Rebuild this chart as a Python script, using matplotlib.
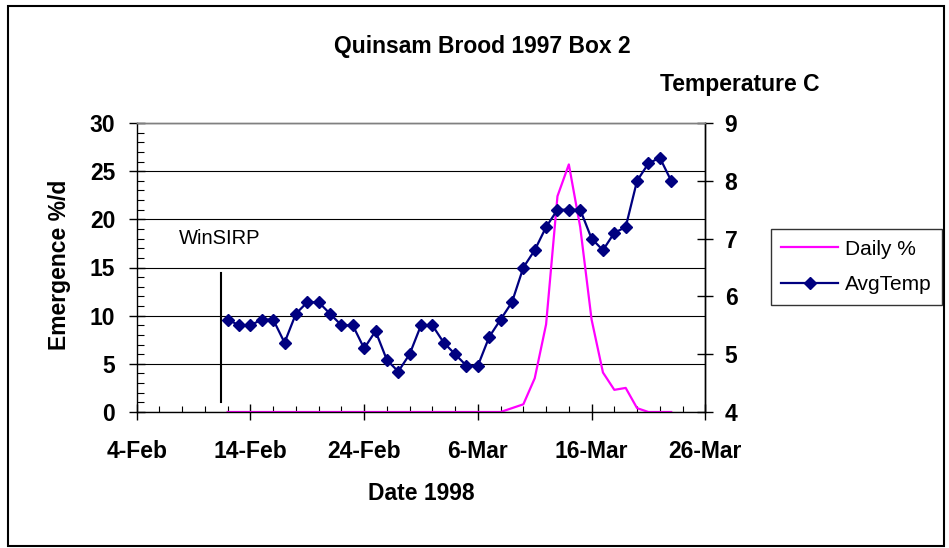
import numpy as np
import pandas as pd
import matplotlib
matplotlib.use('Agg')
import matplotlib.pyplot as plt
import matplotlib.dates as mdates
from matplotlib.patches import Rectangle

plt.rcParams['font.family'] = ['Liberation Sans', 'DejaVu Sans']

# data (one value per day from 12-Feb-1998)
start_date = '1998-02-12'
daily_pct = [0, 0, 0, 0, 0, 0, 0, 0, 0, 0,
             0, 0, 0, 0, 0, 0, 0, 0, 0, 0,
             0, 0, 0, 0, 0, 0.4, 0.8, 3.5, 9.1, 22.4,
             25.7, 19.2, 9.6, 4.1, 2.3, 2.5, 0.4, 0, 0, 0]
avg_temp = [5.6, 5.5, 5.5, 5.6, 5.6, 5.2, 5.7, 5.9, 5.9, 5.7,
            5.5, 5.5, 5.1, 5.4, 4.9, 4.7, 5.0, 5.5, 5.5, 5.2,
            5.0, 4.8, 4.8, 5.3, 5.6, 5.9, 6.5, 6.8, 7.2, 7.5,
            7.5, 7.5, 7.0, 6.8, 7.1, 7.2, 8.0, 8.3, 8.4, 8.0]
dates = pd.date_range(start_date, periods=len(avg_temp), freq='D')

x_min, x_max = pd.Timestamp('1998-02-04'), pd.Timestamp('1998-03-26')
left_ticks = [0, 5, 10, 15, 20, 25, 30]
right_ticks = [4, 5, 6, 7, 8, 9]

fig = plt.figure(figsize=(9.49, 5.48), dpi=100)
W, H = 949, 548
ax = fig.add_axes([136.7 / W, 1 - 412 / H, (705.3 - 136.7) / W, (412 - 123) / H])
ax2 = ax.twinx()

line1, = ax.plot(dates, daily_pct, color='#ff00ff', lw=1.6, label='Daily %')
line2, = ax2.plot(dates, avg_temp, color='#000080', lw=1.6, marker='D',
                  ms=6.2, label='AvgTemp')

# WinSIRP marker line
ax.plot([x_min + pd.Timedelta(days=7.37)] * 2, [1.0, 14.4], color='black', lw=1.5)
ax.text(0.075, 0.602, 'WinSIRP', transform=ax.transAxes, fontsize=14.5,
        va='center', ha='left')

ax.set_xlim(x_min, x_max)
ax.set_ylim(0, 30)
ax2.set_ylim(4, 9)
ax.set_yticks(left_ticks)
ax.set_yticks(np.arange(0, 31, 1), minor=True)
ax2.set_yticks(right_ticks)
ax.set_xticks(pd.date_range(x_min, x_max, freq='10D'))
ax.set_xticks(pd.date_range(x_min, x_max, freq='2D'), minor=True)
ax.xaxis.set_major_formatter(mdates.DateFormatter('%-d-%b'))

ax.grid(axis='y', which='major', color='black', lw=0.8)
ax.set_axisbelow(True)

for a in (ax, ax2):
    for s in a.spines.values():
        s.set_color('black')
        s.set_linewidth(1.0)
    a.spines['top'].set_color('#808080')
ax2.spines['left'].set_visible(False)
ax2.spines['bottom'].set_visible(False)

bold = dict(fontsize=16.5, fontweight='bold')
ax.tick_params(axis='x', which='major', direction='inout', length=11, width=1,
               pad=15)
ax.tick_params(axis='x', which='minor', direction='in', length=4.3, width=0.8)
ax.tick_params(axis='y', which='major', direction='inout', length=12, width=1,
               pad=9.5)
ax.tick_params(axis='y', which='minor', direction='in', length=4.8, width=0.8)
ax2.tick_params(axis='y', which='major', direction='inout', length=12, width=1,
                pad=8)
for lab in ax.get_xticklabels() + ax.get_yticklabels() + ax2.get_yticklabels():
    lab.set_fontsize(16.5)
    lab.set_fontweight('bold')

ax.set_ylabel('Emergence %/d', **bold)
ax.yaxis.set_label_coords((71 - 136.7) / (705.3 - 136.7), 0.51)

fig.text(421.5 / W, 1 - 493 / H, 'Date 1998', ha='center', va='center', **bold)
fig.text(482 / W, 1 - 47 / H, 'Quinsam Brood 1997 Box 2', ha='center', va='center', **bold)
fig.text(740 / W, 1 - 84 / H, 'Temperature C', ha='center', va='center', **bold)

leg = fig.legend([line1, line2], ['Daily %', 'AvgTemp'], loc='center',
                 bbox_to_anchor=(856.5 / W, 1 - 267 / H), fontsize=15,
                 frameon=True, fancybox=False, handlelength=2.7,
                 handletextpad=0.35, labelspacing=0.8, borderpad=0.5)
leg.get_frame().set_edgecolor('black')
leg.get_frame().set_linewidth(1.0)

fig.patches.append(Rectangle((8 / W, 1 - 546 / H), (944 - 8) / W, (546 - 6) / H,
                             transform=fig.transFigure, fill=False,
                             edgecolor='black', lw=1.5))

fig.savefig('out.png', dpi=100)
